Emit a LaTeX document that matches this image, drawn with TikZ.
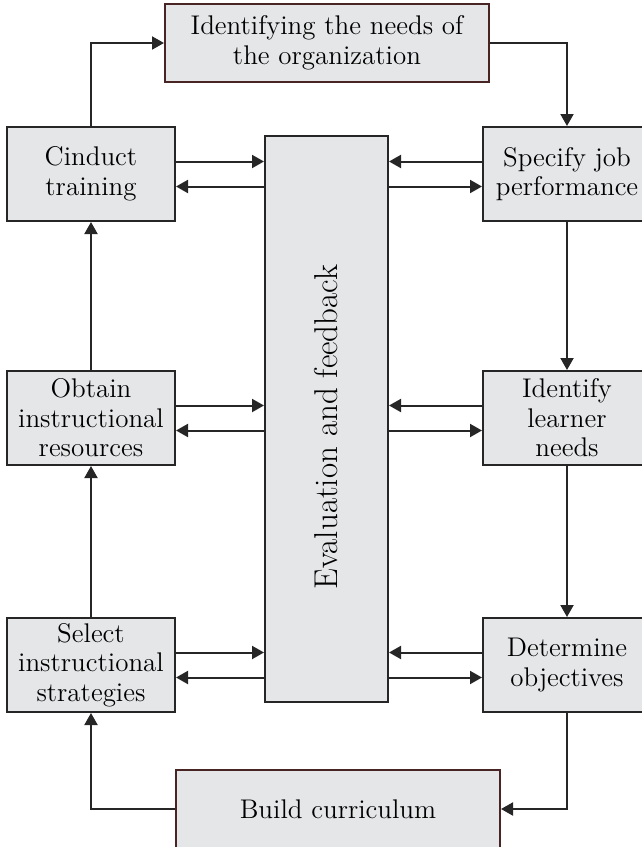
\documentclass[tikz,border=0pt]{standalone}
\usepackage{tikz}
\usetikzlibrary{arrows.meta, positioning, calc}

\definecolor{boxgray}{RGB}{229,230,232}
\definecolor{edgegray}{RGB}{38,38,38}
\definecolor{edgered}{RGB}{72,36,36}

\begin{document}
\begin{tikzpicture}[
    x=0.5pt, y=-0.5pt,
    stepbox/.style={rectangle, draw=edgegray, line width=1pt, fill=boxgray, text centered, align=center, minimum width=84pt, minimum height=47pt, inner sep=2pt, font=\fontsize{13.5}{14.8}\selectfont},
    widebox/.style={stepbox, draw=edgered, minimum width=162pt, minimum height=39pt},
    evalbox/.style={stepbox, minimum width=61.5pt, minimum height=283pt},
    arrow/.style={-{Triangle[length=6pt, width=6.5pt]}, line width=1pt, draw=edgegray}
]
    % frame of the figure
    \useasboundingbox (0,0) rectangle (642,847);

    % Centre: evaluation column
    \node (eval) [evalbox] at (326.5,419) {};
    \node (evaltxt) [rotate=90, font=\fontsize{16.5}{18}\selectfont] at ([yshift=-4pt]eval.center) {Evaluation and feedback};

    % Top and bottom boxes
    \node (needs) [widebox, above=26pt of eval, xshift=0.25pt] {Identifying the needs of\\the organization};
    \node (curric) [widebox, below=33pt of eval, xshift=5.75pt] {Build curriculum};

    % Left column
    \node (cond) [stepbox] at (91,174) {Cinduct\\training};
    \node (obtain) [stepbox, below=74pt of cond] {Obtain\\instructional\\resources};
    \node (select) [stepbox, below=75.5pt of obtain] {Select\\instructional\\strategies};

    % Right column
    \node (spec) [stepbox, right=153pt of cond] {Specify job\\performance};
    \node (ident) [stepbox, right=153pt of obtain] {Identify\\learner\\needs};
    \node (determ) [stepbox, right=153pt of select] {Determine\\objectives};

    % Outer cycle
    \draw [arrow] (cond.north) |- (needs.west);
    \draw [arrow] (needs.east) -| (spec.north);
    \draw [arrow] (spec) -- (ident);
    \draw [arrow] (ident) -- (determ);
    \draw [arrow] (determ.south) |- (curric.east);
    \draw [arrow] (curric.west) -| (select.south);
    \draw [arrow] (select) -- (obtain);
    \draw [arrow] (obtain) -- (cond);

    % Exchanges with evaluation and feedback
    \draw [arrow] ([yshift=6.25pt]cond.east) -- ([yshift=6.25pt]cond.east -| eval.west);
    \draw [arrow] ([yshift=-6.25pt]cond.east -| eval.west) -- ([yshift=-6.25pt]cond.east);
    \draw [arrow] ([yshift=6.25pt]obtain.east) -- ([yshift=6.25pt]obtain.east -| eval.west);
    \draw [arrow] ([yshift=-6.25pt]obtain.east -| eval.west) -- ([yshift=-6.25pt]obtain.east);
    \draw [arrow] ([yshift=6.25pt]select.east) -- ([yshift=6.25pt]select.east -| eval.west);
    \draw [arrow] ([yshift=-6.25pt]select.east -| eval.west) -- ([yshift=-6.25pt]select.east);

    \draw [arrow] ([yshift=6.25pt]spec.west) -- ([yshift=6.25pt]spec.west -| eval.east);
    \draw [arrow] ([yshift=-6.25pt]spec.west -| eval.east) -- ([yshift=-6.25pt]spec.west);
    \draw [arrow] ([yshift=6.25pt]ident.west) -- ([yshift=6.25pt]ident.west -| eval.east);
    \draw [arrow] ([yshift=-6.25pt]ident.west -| eval.east) -- ([yshift=-6.25pt]ident.west);
    \draw [arrow] ([yshift=6.25pt]determ.west) -- ([yshift=6.25pt]determ.west -| eval.east);
    \draw [arrow] ([yshift=-6.25pt]determ.west -| eval.east) -- ([yshift=-6.25pt]determ.west);
\end{tikzpicture}
\end{document}
